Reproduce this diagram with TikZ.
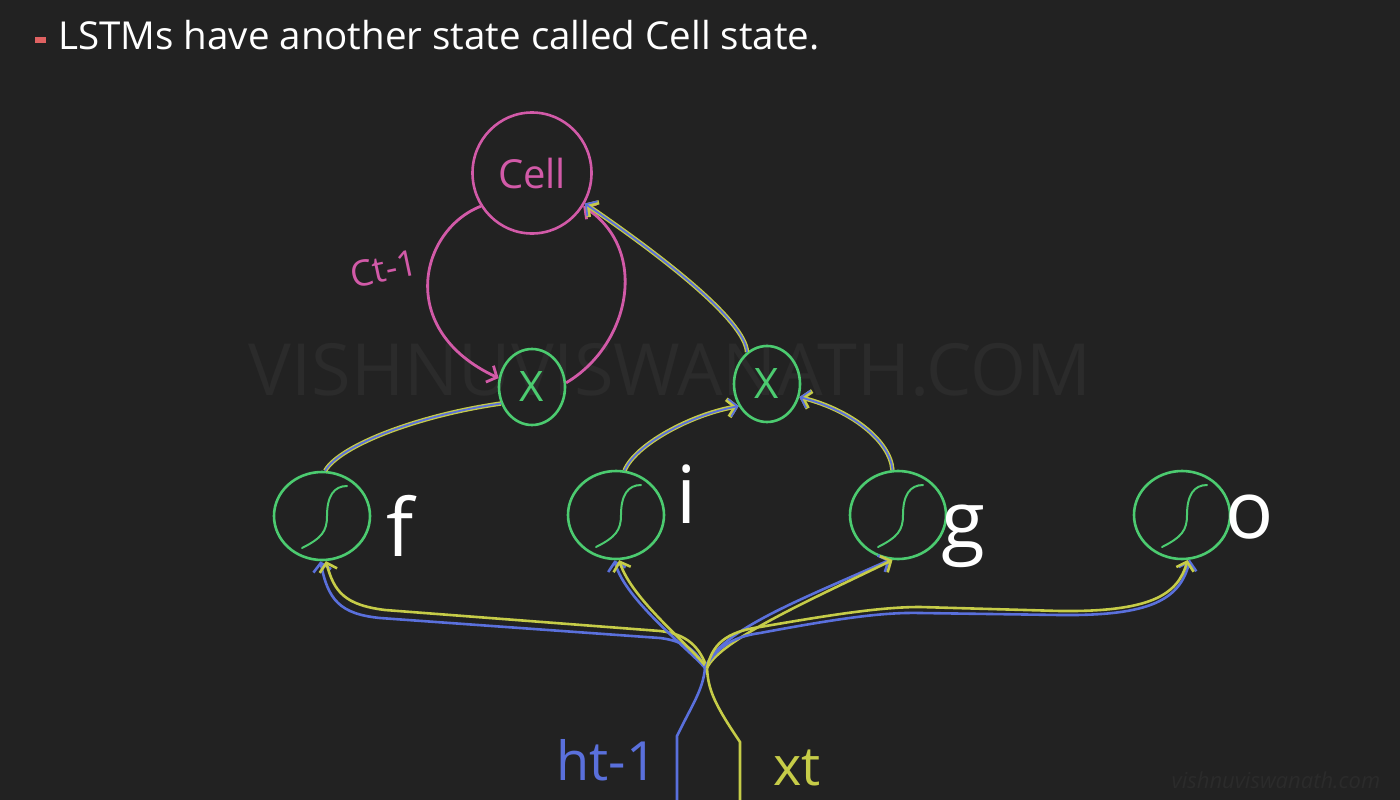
\documentclass[tikz,border=0pt]{standalone}
\usepackage{fontspec}
\setmainfont{Open Sans}
\usetikzlibrary{arrows.meta,shapes.geometric,calc}
\definecolor{bgc}{HTML}{222222}
\definecolor{pinkc}{HTML}{D25AA8}
\definecolor{greenc}{HTML}{4CCB70}
\definecolor{bluec}{HTML}{5A70DC}
\definecolor{yelc}{HTML}{C6CC48}
\definecolor{wmc}{HTML}{2B2B2B}
\definecolor{redc}{HTML}{E06262}
\begin{document}
\begin{tikzpicture}[x=1pt,y=-1pt,
  sgate/.style={ellipse, draw=greenc, line width=2.6pt, minimum width=96pt, minimum height=88pt, inner sep=0pt},
  mulnode/.style={ellipse, draw=greenc, line width=2.6pt, minimum width=66pt, minimum height=76pt, inner sep=0pt, text=greenc, font=\fontsize{42}{42}\selectfont},
  cellnode/.style={ellipse, draw=pinkc, line width=2.6pt, minimum width=119pt, minimum height=121pt, inner sep=0pt, text=pinkc, font=\fontsize{40}{40}\selectfont},
  lbl/.style={inner sep=0pt, text=white, font=\fontsize{80}{80}\selectfont},
  barb/.style={-{Straight Barb[length=8pt,width=18pt]}},
  pinkline/.style={draw=pinkc, line width=2.8pt, barb},
  blueline/.style={draw=bluec, line width=2.6pt},
  yelline/.style={draw=yelc, line width=2.6pt},
  mixline/.style={draw=yelc, line width=4.4pt, postaction={draw=bluec, line width=1.8pt}},
  sig/.style={draw=greenc, line width=2pt, line cap=round},
]
\fill[bgc] (0,0) rectangle (1400,800);
\useasboundingbox (0,0) rectangle (1400,800);

% watermarks
\node[text=wmc, font=\fontsize{72}{72}\selectfont, inner sep=0pt] (wm) at (670,370) {VISHNUVISWANATH.COM};
\node[text=wmc, font=\itshape\fontsize{22}{22}\selectfont, inner sep=0pt] (wm2) at (1276,780) {vishnuviswanath.com};

% title
\fill[redc] (35,37) rectangle (46,43);
\node[anchor=base west, inner sep=0pt, text=white, font=\fontsize{38.5}{40}\selectfont] (title) at (58,50) {LSTMs have another state called Cell state.};

% nodes
\node[cellnode] (cell) at (532,173) {Cell};
\node[mulnode] (m1) at (532,387) {X};
\node[mulnode] (m2) at (767,384) {X};
\node[sgate] (f) at (322,516) {};
\node[sgate] (i) at (616,515) {};
\node[sgate] (g) at (898,515) {};
\node[sgate] (o) at (1182,515) {};

\foreach \n in {f,i,g,o}{
  \begin{scope}[shift={(\n)}]
    \draw[sig] (-20,32) .. controls (0,22) and (5,15) .. (5,0) .. controls (5,-20) and (12,-30) .. (25,-30);
  \end{scope}
}

% labels
\node[lbl] (lf) at (400,526) {f};
\node[lbl] (li) at (687,494) {i};
\node[lbl] (lg) at (963,536) {g};
\node[lbl] (lo) at (1250,517) {o};
\node[inner sep=0pt, text=pinkc, font=\fontsize{36}{36}\selectfont, rotate=12] (lct) at (384,269) {Ct-1};
\node[inner sep=0pt, text=bluec, font=\fontsize{54}{54}\selectfont] (lh) at (607,760) {ht-1};
\node[inner sep=0pt, text=yelc, font=\fontsize{54}{54}\selectfont] (lx) at (797,768) {xt};

% cell loop
\draw[pinkline] (cell.213) .. controls (420,230) and (395,330) .. (m1.165);
\draw[pinkline] (m1.7) .. controls (630,345) and (650,250) .. (cell.-33);

% gate to multiplier / cell
\draw[mixline, barb] (m2.122) .. controls (745,320) and (660,255) .. (cell.-30);
\draw[mixline] (f.86) .. controls (340,445) and (420,415) .. (m1.-152);
\draw[mixline, barb] (i.79) .. controls (635,445) and (690,415) .. (m2.-142);
\draw[mixline, barb] (g.97) .. controls (890,440) and (850,410) .. (m2.-22);

% inputs
\coordinate (hs) at (677,800);
\coordinate (hk) at (677,736);
\coordinate (hc) at (705,668);
\coordinate (xs) at (740,800);
\coordinate (xk) at (740,742);
\coordinate (xc) at (707,668);
\draw[blueline] (hs) -- (hk) .. controls (692,705) and (703,690) .. (hc);
\draw[yelline] (xs) -- (xk) .. controls (715,705) and (708,690) .. (xc);

\draw[blueline, barb] (hc) .. controls (698,652) and (685,641) .. (660,638) -- (380,618) .. controls (340,614) and (328,600) .. (f.-92);
\draw[yelline, barb] (xc) .. controls (700,648) and (688,634) .. (660,631) -- (385,610) .. controls (345,605) and (334,592) .. (f.-85);
\draw[blueline, barb] (hc) .. controls (690,650) and (625,600) .. (i.-92);
\draw[yelline, barb] (xc) .. controls (690,645) and (632,600) .. (i.-86);
\draw[blueline, barb] (hc) .. controls (720,630) and (800,600) .. (g.-100);
\draw[yelline, barb] (xc) .. controls (720,640) and (810,600) .. (g.-97);
\draw[blueline, barb] (hc) .. controls (715,650) and (730,637) .. (760,633) .. controls (830,620) and (880,612) .. (920,613) -- (1060,615) .. controls (1150,616) and (1180,600) .. (o.-80);
\draw[yelline, barb] (xc) .. controls (712,645) and (725,632) .. (760,627) .. controls (830,615) and (880,607) .. (920,607) -- (1060,611) .. controls (1150,612) and (1178,595) .. (o.-83);
\end{tikzpicture}
\end{document}
